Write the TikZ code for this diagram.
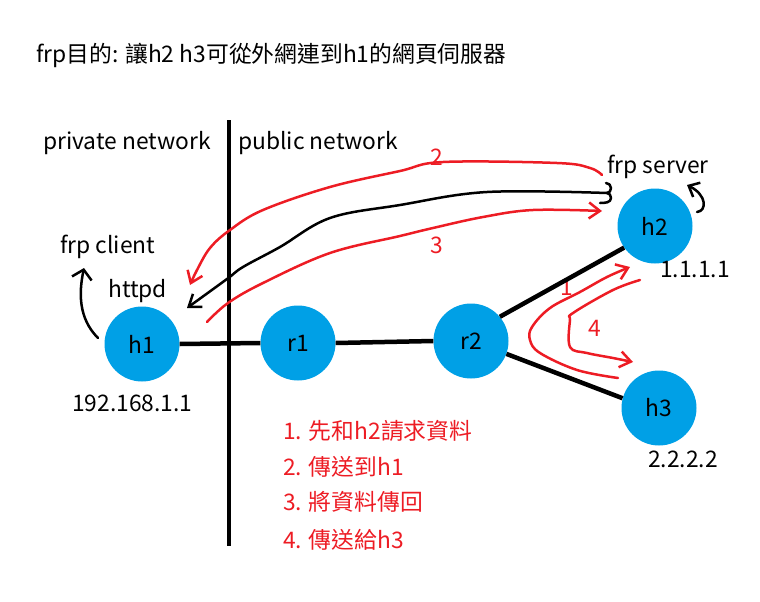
\documentclass[tikz,border=0pt]{standalone}
\usepackage{fontspec}
\setmainfont{Noto Sans CJK TC}
\usetikzlibrary{arrows.meta}
\definecolor{netblue}{RGB}{0,160,230}
\definecolor{paintred}{RGB}{237,28,36}

\begin{document}
\begin{tikzpicture}[x=1pt, y=-1pt, font=\fontsize{22.8}{27}\selectfont,
  host/.style={circle, fill=netblue, minimum size=75pt, inner sep=0pt},
  link/.style={line width=4.5pt},
  txt/.style={anchor=base west, inner sep=0pt},
  note/.style={txt, text=paintred},
  flow/.style={draw=paintred, line width=2.5pt, line cap=round, line join=round,
    -{Straight Barb[length=11pt, width=16pt]}},
  tunnel/.style={draw=black, line width=2.5pt, line cap=round, line join=round,
    -{Straight Barb[length=11pt, width=16pt]}},
]
\useasboundingbox (0,0) rectangle (760,602);

% hosts and routers
\node[host] (h1) at (142,344) {h1};
\node[host] (r1) at (298,343) {r1};
\node[host] (r2) at (471,341) {r2};
\node[host] (h2) at (655,226) {h2};
\node[host] (h3) at (659,408) {h3};

% texts
\node[txt] (title) at (36,63) {frp目的: 讓h2 h3可從外網連到h1的網頁伺服器};
\node[txt] (private) at (43,149) {private network};
\node[txt] (public) at (238,149) {public network};
\node[txt] (server) at (607,173) {frp server};
\node[txt] (client) at (60,253) {frp client};
\node[txt] (httpd) at (108,297) {httpd};
\node[txt] (ip1) at (72,411) {192.168.1.1};
\node[txt] (ip2) at (660,277) {1.1.1.1};
\node[txt] (ip3) at (648,467) {2.2.2.2};
\node[note] (step1) at (283,439) {1. 先和h2請求資料};
\node[note] (step2) at (283,475) {2. 傳送到h1};
\node[note] (step3) at (283,510) {3. 將資料傳回};
\node[note] (step4) at (283,548) {4. 傳送給h3};
\node[note] (n2) at (430,165) {2};
\node[note] (n3) at (430,253) {3};
\node[note] (n1) at (560,295) {1};
\node[note] (n4) at (588,336) {4};

% border between networks
\coordinate (wallTop) at (229,120);
\coordinate (wallBot) at (229,546);
\draw[link] (wallTop) -- (wallBot);

% links
\draw[link] (h1.east) -- (r1.west);
\draw[link] (r1.east) -- (r2.west);
\draw[link] (r2.40) -- (h2.215);
\draw[link] (r2.-20) -- (h3.165);

% frp processes
\coordinate (clientBase) at (98,338);
\coordinate (clientArrow) at (84,268);
\coordinate (serverBase) at (697,212);
\coordinate (serverArrow) at (687,185);
\draw[tunnel, -{Straight Barb[length=9pt, width=20pt]}] (clientBase) .. controls (78,318) and (79,292) .. (clientArrow);
\draw[tunnel, -{Straight Barb[length=9pt, width=16pt]}] (serverBase) .. controls (707,211) and (707,195) .. (serverArrow);

% tunnel between frp server and client
\coordinate (tunS) at (607,193);
\coordinate (tunE) at (187,308);
\draw[tunnel, -] (606,183) to[out=0, in=90] (611,188) to[out=-90, in=0] (tunS)
  to[out=0, in=90] (611,198) to[out=-90, in=0] (600,203);
\draw[tunnel] plot[smooth, tension=0.6] coordinates {(tunS) (487,192) (400,205) (330,218) (280,247) (243,267) (227,279) (tunE)};

% steps 2 and 3
\coordinate (s2S) at (602,175);
\coordinate (s2E) at (190,285);
\draw[flow] plot[smooth, tension=0.6] coordinates {(s2S) (590,168) (557,163) (443,162) (400,171) (330,187) (263,210) (230,230) (210,248) (197,270) (s2E)};
\coordinate (s3S) at (207,322);
\coordinate (s3E) at (602,211);
\draw[flow] plot[smooth, tension=0.6] coordinates {(s3S) (228,303) (263,283) (330,253) (400,236) (433,228) (483,217) (533,210) (s3E)};

% steps 1 and 4
\coordinate (s1S) at (618,378);
\coordinate (s1E) at (630,267);
\draw[flow] plot[smooth, tension=0.6] coordinates {(s1S) (577,370) (540,353) (530,340) (532,327) (550,308) (580,292) (607,277) (s1E)};
\coordinate (s4S) at (640,280);
\coordinate (s4E) at (633,362);
\draw[flow] plot[smooth, tension=0.6] coordinates {(s4S) (613,290) (573,313) (570,320) (570,347) (587,353) (613,358) (s4E)};
\end{tikzpicture}
\end{document}
